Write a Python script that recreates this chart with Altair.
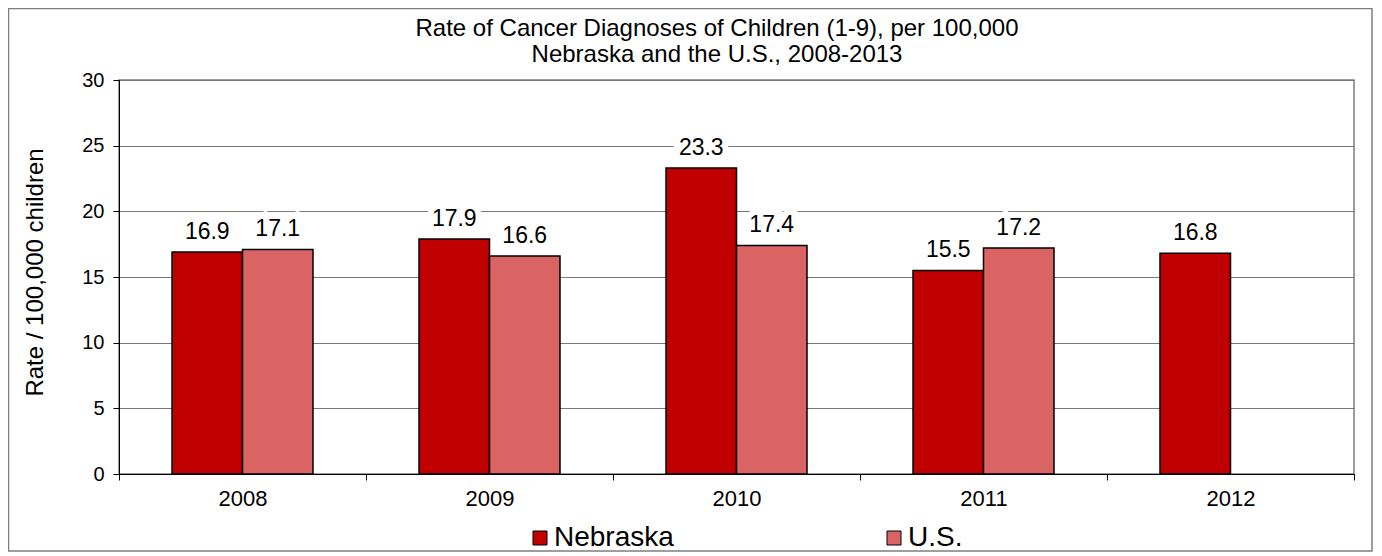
import altair as alt
import pandas as pd

years = ["2008", "2009", "2010", "2011", "2012"]
nebraska = [16.9, 17.9, 23.3, 15.5, 16.8]
us = [17.1, 16.6, 17.4, 17.2, None]
series_names = ["Nebraska", "U.S."]
title_lines = ["Rate of Cancer Diagnoses of Children (1-9), per 100,000",
               "Nebraska and the U.S., 2008-2013"]

rows = []
for y, v in zip(years, nebraska):
    rows.append({"year": y, "series": "Nebraska", "value": v})
for y, v in zip(years, us):
    if v is not None:
        rows.append({"year": y, "series": "U.S.", "value": v})
df = pd.DataFrame(rows)

FONT = "Liberation Sans"
W, H = 1235, 394

x_enc = alt.X("year:N", sort=years, title=None,
              scale=alt.Scale(paddingInner=0, paddingOuter=0),
              axis=alt.Axis(labelAngle=0, labelFontSize=22, labelFont=FONT, labelColor="black",
                            domainColor="black", tickColor="black", tickSize=6, tickBand="extent",
                            labelPadding=8, grid=False))
xoff = alt.XOffset("series:N", scale=alt.Scale(domain=series_names, paddingInner=0, paddingOuter=0.752))
y_enc = alt.Y("value:Q", title="Rate / 100,000 children",
              scale=alt.Scale(domain=[0, 30], nice=False),
              axis=alt.Axis(values=[0, 5, 10, 15, 20, 25, 30], labelFontSize=20, labelFont=FONT,
                            labelColor="black", domainColor="black", tickColor="black", tickSize=6,
                            labelPadding=9, gridColor="#7a7a7a", gridWidth=1,
                            titleFont=FONT, titleFontSize=24, titleFontWeight="normal",
                            titleColor="black", titleX=-77, titleY=192, titleBaseline="alphabetic"))

base = alt.Chart(df)

bars = base.mark_bar(stroke="black", strokeWidth=1.5).encode(
    x=x_enc, xOffset=xoff, y=y_enc,
    color=alt.Color("series:N",
                    scale=alt.Scale(domain=series_names, range=["#C00000", "#DA6464"]),
                    legend=alt.Legend(title=None, orient="none", legendX=407, legendY=444,
                                      direction="horizontal", columns=2, columnPadding=206,
                                      symbolType="square", symbolSize=196,
                                      symbolStrokeColor="black", symbolStrokeWidth=1,
                                      labelFontSize=28, labelFont=FONT, labelColor="black",
                                      labelOffset=0)),
)

halo = base.mark_text(fontSize=23, font=FONT, dy=-13, baseline="alphabetic",
                      stroke="white", strokeWidth=12, fill="white").encode(
    x=x_enc, xOffset=xoff, y=y_enc, text=alt.Text("value:Q", format=".1f"))
labels = base.mark_text(fontSize=23, font=FONT, dy=-13, baseline="alphabetic", color="black").encode(
    x=x_enc, xOffset=xoff, y=y_enc, text=alt.Text("value:Q", format=".1f"))

one = pd.DataFrame({"k": [0]})
border = alt.Chart(one).mark_rect(
    fillOpacity=0, stroke="#7f7f7f", strokeWidth=1.5
).encode(x=alt.value(-110.5), x2=alt.value(1253), y=alt.value(-71.5), y2=alt.value(471))

title1 = alt.Chart(one).mark_text(text=title_lines[0], fontSize=24, font=FONT, color="black",
                                  baseline="alphabetic", align="center").encode(
    x=alt.value(598), y=alt.value(-44))
title2 = alt.Chart(one).mark_text(text=title_lines[1], fontSize=24, font=FONT, color="black",
                                  baseline="alphabetic", align="center").encode(
    x=alt.value(598), y=alt.value(-18.5))

chart = alt.layer(border, halo, bars, labels, title1, title2).properties(
    width=W, height=H,
    autosize=alt.AutoSizeParams(type="none"),
    padding={"left": 111, "top": 72, "right": 20, "bottom": 80},
).configure_view(stroke="#7f7f7f", strokeWidth=1.5)

chart.save("out.html", embed_options={"renderer": "svg", "actions": False})
